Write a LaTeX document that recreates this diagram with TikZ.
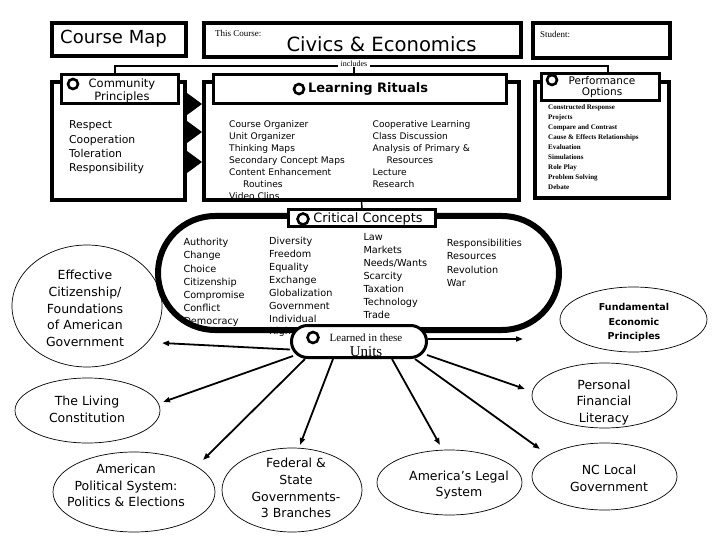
\documentclass[tikz,border=0pt]{standalone}
\usepackage{fontspec}
\setmainfont{DejaVu Sans}
\newfontfamily\serifont{Liberation Serif}
\usetikzlibrary{shapes.geometric,shapes.misc,arrows.meta}
\begin{document}
\begin{tikzpicture}[x=1pt,y=-1pt,
  box/.style={draw, line width=4pt, rectangle, inner sep=0pt},
  head/.style={draw, line width=3pt, fill=white, rectangle, inner sep=0pt},
  ring/.style={circle, draw, line width=2.6pt, fill=white, minimum size=10pt, inner sep=0pt},
  txt/.style={inner sep=0pt},
  items/.style={anchor=north west, align=left, inner sep=0pt},
  ell/.style={ellipse, draw, line width=0.7pt, inner sep=0pt},
  etext/.style={align=center, inner sep=0pt, font=\fontsize{12.5}{16.7}\selectfont},
  arr/.style={line width=1.8pt, -{Triangle[length=7pt,width=5pt]}},
  thinline/.style={line width=1.5pt},
]
\fill[white] (0,0) rectangle (720,540);
\useasboundingbox (0,0) rectangle (720,540);

% ---------- top row
\node[box, minimum width=134pt, minimum height=33pt] (cmap) at (119,39.5) {};
\node[txt, anchor=base, font=\fontsize{18}{20}\selectfont] (cmapt) at (113.5,44) {Course Map};
\node[box, minimum width=317pt, minimum height=34pt] (cbox) at (362.5,40) {};
\node[txt, anchor=base west, font=\serifont\fontsize{9}{10}\selectfont] (thisc) at (215,37) {This Course:};
\node[txt, anchor=base, font=\fontsize{19.6}{22}\selectfont] (civics) at (381.5,52) {Civics \& Economics};
\node[box, minimum width=137pt, minimum height=35pt] (student) at (601.5,40.5) {};
\node[txt, anchor=base west, font=\serifont\fontsize{9}{10}\selectfont] (studt) at (540,38) {Student:};

% ---------- panels
\node[box, minimum width=133pt, minimum height=118pt] (cpanel) at (118.5,141) {};
\node[box, minimum width=315pt, minimum height=118pt] (lrpanel) at (361.5,141) {};
\node[box, minimum width=134pt, minimum height=116pt] (popanel) at (602,140) {};

% triangles between panels
\foreach \yy in {104,132,162}{
  \fill (187,\yy-11) -- (202,\yy) -- (187,\yy+11) -- cycle;
}

% includes connector
\node[txt, font=\serifont\fontsize{8}{9}\selectfont, fill=white, inner xsep=2pt] (incl) at (354,63.5) {includes};
\coordinate (jL) at (115,66);
\coordinate (jR) at (608,66);

\node[head, minimum width=117pt, minimum height=29pt] (cphead) at (120,89) {};
\node[head, minimum width=293pt, minimum height=29pt] (lrhead) at (360,89) {};
\node[head, minimum width=118pt, minimum height=27pt] (pohead) at (600.5,87) {};

\draw[thinline] (cphead.north -| jL) -- (jL) -- (incl.west |- jL);
\draw[thinline] (incl.east |- jL) -- (jR) -- (pohead.north -| jR);
\draw[thinline] (incl.south) -- (incl.south |- lrhead.north);

\node[ring] (cpring) at (73,84) {};
\node[txt, align=center, font=\fontsize{11.5}{13}\selectfont] (cpt) at (122,91) {Community\\Principles};
\node[ring] (lrring) at (299,89) {};
\node[txt, font=\bfseries\fontsize{13}{15}\selectfont] (lrt) at (368,89) {Learning Rituals};
\node[ring] (poring) at (552,80) {};
\node[txt, align=center, font=\fontsize{10.5}{11.5}\selectfont] (pot) at (602,87) {Performance\\Options};

% panel items
\node[items, font=\fontsize{10.8}{14.3}\selectfont] (cpitems) at (69,120.7) {Respect\\Cooperation\\Toleration\\Responsibility};
\node[items, font=\fontsize{9.1}{12}\selectfont] (lritemsA) at (229,120.7) {Course Organizer\\Unit Organizer\\Thinking Maps\\Secondary Concept Maps\\Content Enhancement\\\hspace*{14pt}Routines\\Video Clips};
\node[items, font=\fontsize{9.1}{12}\selectfont] (lritemsB) at (372.5,120.7) {Cooperative Learning\\Class Discussion\\Analysis of Primary \&\\\hspace*{14pt}Resources\\Lecture\\Research};
\node[items, font=\serifont\bfseries\fontsize{7}{10}\selectfont] (poitems) at (548,104.5) {Constructed Response\\Projects\\Compare and Contrast\\Cause \& Effects Relationships\\Evaluation\\Simulations\\Role Play\\Problem Solving\\Debate};

% ---------- critical concepts
\node[items, font=\fontsize{9.7}{13.1}\selectfont] (ccA) at (183.3,238.3) {Authority\\Change\\Choice\\Citizenship\\Compromise\\Conflict\\Democracy};
\node[items, font=\fontsize{9.7}{12.86}\selectfont] (ccB) at (269,237.3) {Diversity\\Freedom\\Equality\\Exchange\\Globalization\\Government\\Individual\\Rights};
\node[items, font=\fontsize{9.7}{13.05}\selectfont] (ccC) at (363.3,233.3) {Law\\Markets\\Needs/Wants\\Scarcity\\Taxation\\Technology\\Trade};
\node[items, font=\fontsize{9.7}{13.1}\selectfont] (ccD) at (446.7,239.3) {Responsibilities\\Resources\\Revolution\\War};

\node[draw, line width=6pt, rounded rectangle, minimum width=401pt, minimum height=114pt, inner sep=0pt] (ccring) at (358.5,273) {};
\node[head, minimum width=147pt, minimum height=17pt] (cchead) at (362,218) {};
\node[ring, minimum size=11pt] (ccr) at (303,219) {};
\node[txt, font=\fontsize{12.9}{15}\selectfont] (cct) at (368,219) {Critical Concepts};
\draw[thinline] (lrpanel.south) -- (cchead.north);

% ---------- units
\node[draw, line width=3pt, fill=white, rounded rectangle, minimum width=135pt, minimum height=32pt, inner sep=0pt] (units) at (359,341.5) {};
\node[ring, minimum size=11pt] (unring) at (313,337.5) {};
\node[txt, anchor=base, font=\serifont\fontsize{11}{12}\selectfont] (unA) at (366,341.5) {Learned in these};
\node[txt, anchor=base, font=\serifont\fontsize{15}{16}\selectfont] (unB) at (366,356) {Units};

% ---------- ellipses
\node[ell, minimum width=150pt, minimum height=122pt] (ecit) at (87,306) {};
\node[etext] (ecitt) at (85,308.5) {Effective\\Citizenship/\\Foundations\\of American\\Government};
\node[ell, minimum width=147pt, minimum height=65pt] (efep) at (633.5,319.5) {};
\node[txt, align=center, font=\bfseries\fontsize{9.5}{14.5}\selectfont] (efept) at (634,322.5) {Fundamental\\Economic\\Principles};
\node[ell, minimum width=145pt, minimum height=65pt] (epfl) at (604.5,395.5) {};
\node[etext] (epflt) at (604,402.3) {Personal\\Financial\\Literacy};
\node[ell, minimum width=145pt, minimum height=65pt] (elc) at (87.5,410.5) {};
\node[etext] (elct) at (87,409.5) {The Living\\Constitution};
\node[ell, minimum width=162pt, minimum height=80pt] (eaps) at (134,492) {};
\node[etext] (eapst) at (126,485.5) {American\\Political System:\\Politics \& Elections};
\node[ell, minimum width=140pt, minimum height=84pt] (efed) at (292,490) {};
\node[etext] (efedt) at (296,488) {Federal \&\\State\\Governments-\\3 Branches};
\node[ell, minimum width=145pt, minimum height=65pt] (elegal) at (449.5,482.5) {};
\node[etext] (elegalt) at (459,485) {America's Legal\\System};
\node[ell, minimum width=145pt, minimum height=67pt] (enc) at (604.5,476.5) {};
\node[etext] (enct) at (609,478) {NC Local\\Government};

% ---------- arrows from units
\coordinate (tCit) at (162,343);
\coordinate (tFep) at (523,339);
\coordinate (tLc) at (163,402);
\coordinate (tAps) at (203,460);
\coordinate (tFed) at (300,445);
\coordinate (tLeg) at (440,445);
\coordinate (tNc) at (540,449);
\coordinate (tPfl) at (525,389);
\draw[arr] ([shift={(0,8)}]units.west) -- (tCit);
\draw[arr] ([shift={(0,-2.5)}]units.east) -- (tFep);
\draw[arr] ([shift={(-66,-3)}]units.south) -- (tLc);
\draw[arr] ([shift={(-54,0)}]units.south) -- (tAps);
\draw[arr] ([shift={(-26,0)}]units.south) -- (tFed);
\draw[arr] ([shift={(33,0)}]units.south) -- (tLeg);
\draw[arr] ([shift={(56,0)}]units.south) -- (tNc);
\draw[arr] ([shift={(68,-4)}]units.south) -- (tPfl);
\end{tikzpicture}
\end{document}
